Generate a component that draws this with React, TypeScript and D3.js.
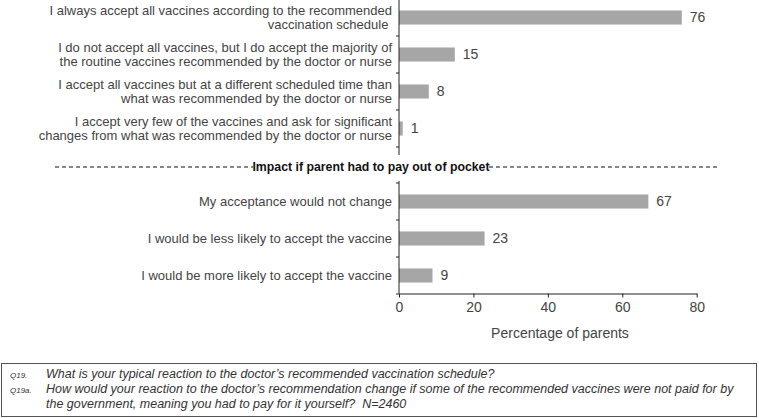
import React, { useEffect, useRef } from 'react'
import * as d3 from 'd3'

// reaction to the recommended schedule (Q19)
const scheduleLabels = [
  ['I always accept all vaccines according to the recommended', 'vaccination schedule '],
  ['I do not accept all vaccines, but I do accept the majority of', 'the routine vaccines recommended by the doctor or nurse'],
  ['I accept all vaccines but at a different scheduled time than', 'what was recommended by the doctor or nurse'],
  ['I accept very few of the vaccines and ask for significant', 'changes from what was recommended by the doctor or nurse']
]
const scheduleValues = [76, 15, 8, 1]

// impact if parent had to pay (Q19a)
const impactLabels = [
  'My acceptance would not change',
  'I would be less likely to accept the vaccine',
  'I would be more likely to accept the vaccine'
]
const impactValues = [67, 23, 9]

const xTicks = [0, 20, 40, 60, 80]
const sectionTitle = 'Impact if parent had to pay out of pocket'
const axisTitle = 'Percentage of parents'
const footnotes = [
  ['Q19.', 'What is your typical reaction to the doctor\u2019s recommended vaccination schedule?'],
  ['Q19a.', 'How would your reaction to the doctor\u2019s recommendation change if some of the recommended vaccines were not paid for by'],
  ['', 'the government, meaning you had to pay for it yourself?  N=2460']
]

const WIDTH = 759
const HEIGHT = 418
const FONT = '"Liberation Sans", Arial, Helvetica, sans-serif'
const BAR = '#a6a6a6'
const TEXT = '#444'

const App = () => {
  const ref = useRef<SVGSVGElement>(null)

  useEffect(() => {
    const svg = d3.select(ref.current)
    svg.selectAll('*').remove()
    svg.attr('font-family', FONT)

    const x = d3.scaleLinear().domain([0, 80]).range([399, 696.7])

    const yTop = d3
      .scaleBand<number>()
      .domain(d3.range(scheduleValues.length))
      .range([-1, 147])
      .paddingInner(0.62)
      .paddingOuter(0.31)

    const yBottom = d3
      .scaleBand<number>()
      .domain(d3.range(impactValues.length))
      .range([183, 294])
      .paddingInner(0.62)
      .paddingOuter(0.31)

    const drawSection = (y, values, labels, axisTop, axisBottom) => {
      const g = svg.append('g')

      g.selectAll('rect.bar')
        .data(values)
        .enter()
        .append('rect')
        .attr('class', 'bar')
        .attr('x', x(0))
        .attr('y', (d, i) => y(i))
        .attr('width', (d) => x(d) - x(0))
        .attr('height', y.bandwidth())
        .attr('fill', BAR)

      g.selectAll('text.value')
        .data(values)
        .enter()
        .append('text')
        .attr('class', 'value')
        .attr('x', (d) => x(d) + 8)
        .attr('y', (d, i) => y(i) + y.bandwidth() / 2)
        .attr('dy', '0.35em')
        .attr('font-size', 14)
        .attr('fill', TEXT)
        .text((d) => d)

      // category labels, one or two lines each
      const label = g
        .selectAll('text.label')
        .data(labels)
        .enter()
        .append('text')
        .attr('class', 'label')
        .attr('text-anchor', 'end')
        .attr('font-size', 13)
        .attr('fill', TEXT)
        .style('white-space', 'pre')
        .attr('transform', (d, i) => `translate(392, ${y(i) + y.bandwidth() / 2})`)

      label.each(function (d) {
        const lines = Array.isArray(d) ? d : [d]
        const t = d3.select(this)
        lines.forEach((line, k) => {
          t.append('tspan')
            .attr('x', 0)
            .attr('y', (k - (lines.length - 1) / 2) * 14.5)
            .attr('dy', '0.35em')
            .text(line)
        })
      })

      // category axis: line with ticks at band boundaries
      const step = y.step()
      const start = y.range()[0]
      const bounds = d3.range(values.length + 1).map((i) => start + i * step)
      g.append('line')
        .attr('x1', x(0))
        .attr('x2', x(0))
        .attr('y1', axisTop)
        .attr('y2', axisBottom)
        .attr('stroke', '#222')
      g.selectAll('line.tick')
        .data(bounds)
        .enter()
        .append('line')
        .attr('class', 'tick')
        .attr('x1', x(0) - 3)
        .attr('x2', x(0))
        .attr('y1', (d) => d)
        .attr('y2', (d) => d)
        .attr('stroke', '#222')
    }

    drawSection(yTop, scheduleValues, scheduleLabels, -1, 155)
    drawSection(yBottom, impactValues, impactLabels, 181, 293.5)

    // section divider
    const divY = 167
    const divider = svg.append('g').attr('stroke', '#111').attr('stroke-dasharray', '4 3')
    divider.append('line').attr('x1', 55).attr('x2', 253).attr('y1', divY).attr('y2', divY)
    divider.append('line').attr('x1', 489).attr('x2', 720).attr('y1', divY).attr('y2', divY)
    svg
      .append('text')
      .attr('x', 371)
      .attr('y', divY)
      .attr('dy', '0.35em')
      .attr('text-anchor', 'middle')
      .attr('font-size', 12.3)
      .attr('font-weight', 'bold')
      .attr('fill', '#111')
      .text(sectionTitle)

    // value axis
    const xAxis = svg
      .append('g')
      .attr('transform', 'translate(0, 293.5)')
      .call(d3.axisBottom(x).tickValues(xTicks).tickSize(4).tickSizeOuter(0))
    xAxis.select('.domain').attr('stroke', '#222')
    xAxis.selectAll('.tick line').attr('stroke', '#222')
    xAxis
      .selectAll('.tick text')
      .attr('font-family', FONT)
      .attr('font-size', 14)
      .attr('fill', TEXT)
      .attr('y', 9)

    svg
      .append('text')
      .attr('x', 560)
      .attr('y', 338)
      .attr('text-anchor', 'middle')
      .attr('font-size', 14)
      .attr('fill', TEXT)
      .text(axisTitle)

    // footnote box
    svg
      .append('rect')
      .attr('x', 1.5)
      .attr('y', 363.5)
      .attr('width', 755)
      .attr('height', 53)
      .attr('fill', 'none')
      .attr('stroke', '#555')

    const notes = svg.append('g').attr('fill', '#333')
    footnotes.forEach(([code, text], i) => {
      const yy = 378 + i * 15
      notes
        .append('text')
        .attr('x', 10)
        .attr('y', yy)
        .attr('font-size', 8)
        .attr('font-style', 'italic')
        .text(code)
      notes
        .append('text')
        .attr('x', 46)
        .attr('y', yy)
        .attr('font-size', 12.5)
        .attr('font-style', 'italic')
        .style('white-space', 'pre')
        .text(text)
    })
  }, [])

  return (
    <svg
      ref={ref}
      width={WIDTH}
      height={HEIGHT}
      style={{ position: 'absolute', left: 0, top: 0, background: '#fff' }}
    />
  )
}

export default App
